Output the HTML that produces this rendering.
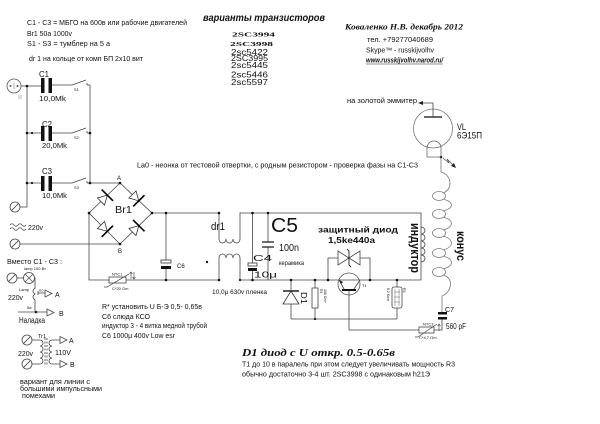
<!DOCTYPE html>
<html><head><meta charset="utf-8">
<style>
html,body{margin:0;padding:0;background:#fff;}
svg{display:block;}
text{font-family:"Liberation Sans","DejaVu Sans",sans-serif;fill:#111;}
.s{font-family:"Liberation Serif","DejaVu Serif",serif;}
.b{font-weight:bold;}
.i{font-style:italic;}
</style></head><body>
<svg width="600" height="424" viewBox="0 0 600 424" xmlns="http://www.w3.org/2000/svg">
<defs>
<g id="term"><circle r="5" fill="#fff" stroke="#444" stroke-width="0.8"/><line x1="-3.2" y1="3.2" x2="3.2" y2="-3.2" stroke="#444" stroke-width="0.8"/></g>
<g id="diode"><polygon points="-5,-5 -5,5 4,0" fill="#fff" stroke="#333" stroke-width="0.8"/><line x1="4" y1="-8" x2="4" y2="8" stroke="#000" stroke-width="1.6"/></g>
<g id="tri"><polygon points="0,-3.5 0,3.5 7,0" fill="#fff" stroke="#444" stroke-width="0.8"/></g>
</defs>

<!-- ===== WIRES ===== -->
<g fill="none" stroke="#444" stroke-width="0.8">
  <!-- C1..C3 rows -->
  <path d="M21,86 H41 M52,85 H72 L86,80 M87,85 H90"/>
  <path d="M27,133 H41 M52,133 H72 L86,128 M87,133 H90"/>
  <path d="M27,183 H41 M52,183 H72 L86,178 M87,183 H120"/>
  <path d="M87,85 v-2 M87,133 v-2 M87,183 v-2"/>
  <path d="M27,86 V207 H20"/>
  <path d="M90,85 V183"/>
  <path d="M20,244 H120"/>
  <!-- bridge -->
  <path d="M120,183 L152,213 L120,244 L89,213 Z"/>
  <path d="M152,213 H219 V239"/>
  <path d="M89,213 V280 H109 M126,280 H219 V258"/>
  <!-- dr1 -->
  <path d="M219,239 a3.5,4 0 0 0 7,0 a3.5,4 0 0 0 7,0 a3.5,4 0 0 0 7,0"/>
  <path d="M240,239 V213 H421 V280 H240 V258"/>
  <path d="M240,258 a3.5,4 0 0 0 -7,0 a3.5,4 0 0 0 -7,0 a3.5,4 0 0 0 -7,0"/>
  <!-- C6 -->
  <path d="M166,213 V260 M166,269 V280"/>
  <!-- C4 -->
  <path d="M252.5,213 V263 M252.5,271 V280"/>
  <!-- C5 -->
  <path d="M268,213 V242 M268,247 V280"/>
  <!-- D1 -->
  <path d="M291,280 V291 M291,304 V319"/>
  <!-- R4 -->
  <path d="M315,280 V288 M315,308 V319"/>
  <path d="M291,319 H397"/>
  <!-- TVS -->
  <path d="M328,280 V258 H338 M360,258 H370 V280"/>
  <!-- transistor -->
  <path d="M344,289 L339,280 M354,289 L360,280"/>
  <path d="M349,291 V330 H419"/>
  <!-- R3 -->
  <path d="M397,280 V287 M397,308 V319"/>
  <!-- inductor humps -->
  <path d="M421,227 a4,3.5 0 0 1 0,7 a4,3.5 0 0 1 0,7 a4,3.5 0 0 1 0,7 a4,3.5 0 0 1 0,7 a4,3.5 0 0 1 0,7"/>
  <!-- NTC3 to C7 -->
  <path d="M434,330 H442 V319.5"/>
</g>

<!-- bridge diodes -->
<use href="#diode" transform="translate(104.5,198) rotate(-45)"/>
<use href="#diode" transform="translate(136,198) rotate(45)"/>
<use href="#diode" transform="translate(104.5,228.5) rotate(45)"/>
<use href="#diode" transform="translate(136,228.5) rotate(-45)"/>

<!-- capacitor plates C1-C3 -->
<g fill="#111">
  <rect x="41" y="78" width="3.5" height="15"/><rect x="48.5" y="78" width="3.5" height="15"/>
  <rect x="41" y="126" width="3.5" height="15"/><rect x="48.5" y="126" width="3.5" height="15"/>
  <rect x="41" y="176" width="3.5" height="15"/><rect x="48.5" y="176" width="3.5" height="15"/>
  <!-- C6 -->
  <rect x="161" y="266" width="10" height="3"/>
  <!-- C4 -->
  <rect x="248" y="268" width="9" height="3"/>
  <!-- C7 -->
  <rect x="438" y="312" width="9" height="2.5"/><rect x="438" y="317" width="9" height="2.5"/>
</g>
<rect x="161" y="260" width="10" height="3" fill="#fff" stroke="#333" stroke-width="0.8"/>
<rect x="248" y="263" width="9" height="3" fill="#fff" stroke="#333" stroke-width="0.8"/>
<g stroke="#222" stroke-width="1.3"><line x1="262" y1="242" x2="274" y2="242"/><line x1="262" y1="247" x2="274" y2="247"/></g>

<!-- D1 -->
<line x1="283" y1="291" x2="299" y2="291" stroke="#111" stroke-width="1.4"/>
<polygon points="283,304 299,304 291,291" fill="#fff" stroke="#333" stroke-width="0.8"/>
<!-- R4 -->
<rect x="312" y="288" width="6" height="20" fill="#fff" stroke="#444" stroke-width="0.8"/>
<!-- TVS -->
<g fill="#fff" stroke="#444" stroke-width="0.8">
  <polygon points="338,251 338,265 349,258"/>
  <polygon points="360,251 360,265 349,258"/>
</g>
<path d="M347,249 L349,251 V265 L351,267" fill="none" stroke="#222" stroke-width="0.9"/>
<!-- transistor -->
<circle cx="349" cy="284" r="11" fill="none" stroke="#555" stroke-width="0.8"/>
<line x1="342" y1="290" x2="356" y2="290" stroke="#111" stroke-width="2"/>
<polygon points="339,280 343,282 341,284" fill="#222"/>
<!-- R3 -->
<rect x="392" y="287" width="10" height="21" rx="2" fill="#fff" stroke="#444" stroke-width="0.8"/>
<path d="M394,292 H400 M394,297 H400 M394,302 H400 M395,289 V306 M399,289 V306" stroke="#666" stroke-width="0.5" fill="none"/>

<!-- NTC1 -->
<rect x="109" y="277" width="17" height="6" fill="#fff" stroke="#444" stroke-width="0.8"/>
<path d="M104,287 H107 L129,274" fill="none" stroke="#444" stroke-width="0.7"/>
<path d="M131,279 V272 M129.5,274 L131,272 L132.5,274 M134,272 V279 M132.5,277 L134,279 L135.5,277" fill="none" stroke="#333" stroke-width="0.6"/>
<!-- NTC3 -->
<rect x="419" y="327" width="15" height="6" fill="#fff" stroke="#444" stroke-width="0.8"/>
<path d="M415,337 H418 L437,324" fill="none" stroke="#444" stroke-width="0.7"/>
<path d="M439,331 V324 M437.5,326 L439,324 L440.5,326" fill="none" stroke="#333" stroke-width="0.6"/>

<!-- socket C1 -->
<circle cx="14" cy="86" r="7" fill="#fff" stroke="#555" stroke-width="0.8"/>
<circle cx="10.5" cy="86" r="1" fill="#555"/><circle cx="17.5" cy="86" r="1" fill="#555"/>
<line x1="14" y1="83" x2="14" y2="89" stroke="#777" stroke-width="0.6"/>
<path d="M19,95 v4 M21,95 v4" stroke="#777" stroke-width="0.5"/>
<!-- terminals -->
<use href="#term" x="15" y="207"/>
<use href="#term" x="15" y="244"/>
<!-- ≈ -->
<path d="M10,225 q2,-2.5 4,0 t4,0 t4,0 t4,0 M10,229 q2,-2.5 4,0 t4,0 t4,0 t4,0" fill="none" stroke="#444" stroke-width="0.7"/>

<!-- dots -->
<g fill="#111">
  <circle cx="27" cy="86" r="1.3"/><circle cx="27" cy="133" r="1.3"/><circle cx="32" cy="133" r="1.1"/>
  <circle cx="90" cy="133" r="1.3"/><circle cx="27" cy="183" r="1.3"/><circle cx="32" cy="183" r="1.1"/>
  <circle cx="90" cy="183" r="1.3"/><circle cx="120" cy="183" r="1.3"/><circle cx="152" cy="213" r="1.3"/>
  <circle cx="89" cy="213" r="1.3"/><circle cx="120" cy="244" r="1.3"/><circle cx="166" cy="213" r="1.3"/>
  <circle cx="219" cy="213" r="1.3"/><circle cx="252.5" cy="213" r="1.3"/><circle cx="268" cy="213" r="1.3"/>
  <circle cx="166" cy="280" r="1.3"/><circle cx="219" cy="280" r="1.3"/><circle cx="252.5" cy="280" r="1.3"/>
  <circle cx="291" cy="280" r="1.3"/><circle cx="315" cy="280" r="1.3"/><circle cx="328" cy="280" r="1.3"/>
  <circle cx="370" cy="280" r="1.3"/><circle cx="397" cy="280" r="1.3"/><circle cx="207" cy="262" r="1.2"/>
  <circle cx="441" cy="157" r="1.3"/><circle cx="240" cy="280" r="1.1"/><circle cx="315" cy="319" r="1.1"/>
  <circle cx="36" cy="312" r="1.3"/>
</g>

<!-- ===== TUBE & CONE COIL ===== -->
<circle cx="433" cy="128.5" r="19.5" fill="none" stroke="#777" stroke-width="0.8"/>
<line x1="424" y1="117" x2="442" y2="117" stroke="#333" stroke-width="1.5"/>
<path d="M433,117 V103 H423" fill="none" stroke="#444" stroke-width="0.8"/>
<polygon points="418,103 423,101 423,105" fill="#222"/>
<path d="M427,148 A7,7 0 0 1 441,148 M427,148 V157 H441 V148" fill="none" stroke="#666" stroke-width="0.8"/>
<polyline points="443,158 449,163 447,159 454,166" fill="none" stroke="#444" stroke-width="0.7"/>
<polygon points="456,168 451,166 454,163" fill="#222"/>
<g fill="none" stroke="#777" stroke-width="0.8">
  <path d="M441,158 V172 C452,175 453,189 443.6,192.8"/>
  <path d="M443.6,199.2 C454,202 454,208 443.6,210.8"/>
  <path d="M443.6,217.2 C454,220 454,227 443.6,229.8"/>
  <path d="M443.6,236.2 C454,239 454,247 443.6,249.8"/>
  <path d="M443.6,256.2 C454,259 454,266 443.6,268.8"/>
  <path d="M443.6,275.2 C454,278 452,292 442,296 V312"/>
  <ellipse cx="439" cy="196" rx="6.5" ry="4.5"/>
  <ellipse cx="439" cy="214" rx="6.5" ry="4.5"/>
  <ellipse cx="439" cy="233" rx="6.5" ry="4.5"/>
  <ellipse cx="439" cy="253" rx="6.5" ry="4.5"/>
  <ellipse cx="439" cy="272" rx="6.5" ry="4.5"/>
</g>

<!-- ===== BOTTOM-LEFT MINI CIRCUITS ===== -->
<use href="#term" x="12" y="278"/>
<circle cx="29" cy="278" r="5.5" fill="#fff" stroke="#444" stroke-width="0.8"/>
<path d="M25,274 L33,282 M33,274 L25,282" stroke="#444" stroke-width="0.7"/>
<g fill="none" stroke="#444" stroke-width="0.8">
  <path d="M17,278 H23.5"/>
  <path d="M34.5,278 H35 V288 q-4,3 0,6 q-4,3 0,6 V312"/>
  <path d="M38,293 H45 M38,291 V295"/>
  <path d="M18,312 H47"/>
  <path d="M32,340 H40 M32,364 H40"/>
  <path d="M40,340 a3,3 0 0 1 0,6 a3,3 0 0 1 0,6 a3,3 0 0 1 0,6 a3,3 0 0 1 0,6"/>
  <path d="M52,340 a3,3 0 0 0 0,6 a3,3 0 0 0 0,6 a3,3 0 0 0 0,6 a3,3 0 0 0 0,6"/>
  <path d="M40,364 V364 M52,364 H60 M52,340 H60"/>
  <path d="M45,338 V366 M47,338 V366" stroke-dasharray="2,1.5"/>
</g>
<use href="#tri" x="45" y="293.5"/>
<use href="#tri" x="47" y="312.5"/>
<use href="#term" x="27" y="340"/>
<use href="#term" x="27" y="364"/>
<use href="#tri" x="60" y="340"/>
<use href="#tri" x="60" y="364"/>

<!-- ===== TEXT ===== -->
<g font-size="7.5">
  <text x="27" y="25" textLength="160" lengthAdjust="spacingAndGlyphs">C1 - C3 = МБГО на 600в или рабочие двигателей</text>
  <text x="27" y="36" textLength="45" lengthAdjust="spacingAndGlyphs">Br1 50a 1000v</text>
  <text x="27" y="46" textLength="83" lengthAdjust="spacingAndGlyphs">S1 - S3 = тумблер на 5 а</text>
  <text x="29" y="61" textLength="114" lengthAdjust="spacingAndGlyphs">dr 1 на кольце от комп БП 2x10 вит</text>
</g>
<text x="203" y="21" font-size="10" class="b i" textLength="122" lengthAdjust="spacingAndGlyphs">варианты транзисторов</text>
<text x="232" y="36.7" font-size="6.5" class="s b" textLength="43" lengthAdjust="spacingAndGlyphs">2SC3994</text>
<text x="230" y="46" font-size="6.5" class="s b" textLength="43" lengthAdjust="spacingAndGlyphs">2SC3998</text>
<g font-size="8">
  <text x="231" y="55" textLength="37" lengthAdjust="spacingAndGlyphs">2sc5422</text>
  <text x="231" y="61" textLength="37" lengthAdjust="spacingAndGlyphs">2SC3995</text>
  <text x="231" y="68" textLength="37" lengthAdjust="spacingAndGlyphs">2sc5445</text>
  <text x="231" y="77.5" textLength="37" lengthAdjust="spacingAndGlyphs">2sc5446</text>
  <text x="231" y="85" textLength="37" lengthAdjust="spacingAndGlyphs">2sc5597</text>
</g>
<text x="345" y="29.5" font-size="8.5" class="s b i" textLength="118" lengthAdjust="spacingAndGlyphs">Коваленко Н.В. декабрь 2012</text>
<text x="367" y="42" font-size="7" textLength="66" lengthAdjust="spacingAndGlyphs">тел. +79277040689</text>
<text x="366" y="52.5" font-size="7" textLength="68" lengthAdjust="spacingAndGlyphs">Skype™ - russkijvolhv</text>
<text x="366" y="62.5" font-size="7" class="b i" textLength="77" lengthAdjust="spacingAndGlyphs">www.russkijvolhv.narod.ru/</text>
<line x1="366" y1="64" x2="443" y2="64" stroke="#222" stroke-width="0.5"/>
<text x="347" y="103" font-size="7" textLength="70" lengthAdjust="spacingAndGlyphs">на золотой эммитер</text>
<text x="457" y="130" font-size="9" textLength="9" lengthAdjust="spacingAndGlyphs">VL</text>
<text x="457" y="138.5" font-size="9" textLength="25" lengthAdjust="spacingAndGlyphs">6Э15П</text>
<text x="137" y="167.5" font-size="7" textLength="281" lengthAdjust="spacingAndGlyphs">La0 - неонка от тестовой отвертки, с родным резистором - проверка фазы на С1-С3</text>

<g font-size="8.5">
  <text x="39" y="77" textLength="10" lengthAdjust="spacingAndGlyphs">C1</text>
  <text x="42" y="127" textLength="10" lengthAdjust="spacingAndGlyphs">C2</text>
  <text x="42" y="174" textLength="10" lengthAdjust="spacingAndGlyphs">C3</text>
</g>
<g font-size="7.5">
  <text x="39" y="101" textLength="27" lengthAdjust="spacingAndGlyphs">10,0Mk</text>
  <text x="42" y="148" textLength="25" lengthAdjust="spacingAndGlyphs">20,0Mk</text>
  <text x="42" y="198" textLength="25" lengthAdjust="spacingAndGlyphs">10,0Mk</text>
</g>
<g font-size="4">
  <text x="74" y="91">S1</text><text x="74" y="139">S2</text><text x="74" y="189">S3</text>
  <text x="112" y="275.5">NTC1</text><text x="112" y="290">C*20 Om</text>
  <text x="423" y="325.5">NTC3</text><text x="419" y="339">C*4,7 Om</text>
  <text x="362" y="287">T1</text>
  <text x="24" y="270">lamp 100 Вт</text>
  <text x="19" y="291">Lamp</text>
  <text x="39" y="291.5">no</text>
  <text x="27" y="309">5a</text>
</g>
<text x="117" y="180" font-size="6">A</text>
<text x="118" y="253" font-size="6">B</text>
<text x="115" y="213" font-size="10" textLength="17" lengthAdjust="spacingAndGlyphs">Br1</text>
<text x="28" y="230" font-size="7" textLength="15" lengthAdjust="spacingAndGlyphs">220v</text>
<text x="177" y="268" font-size="6">C6</text>
<text x="211" y="230" font-size="11" textLength="14" lengthAdjust="spacingAndGlyphs">dr1</text>
<text x="271" y="232" font-size="20" textLength="27" lengthAdjust="spacingAndGlyphs">C5</text>
<text x="279" y="251" font-size="10" textLength="20" lengthAdjust="spacingAndGlyphs">100n</text>
<text x="253" y="261" font-size="8.5" textLength="19" lengthAdjust="spacingAndGlyphs">C4</text>
<text x="279" y="265" font-size="6" textLength="25" lengthAdjust="spacingAndGlyphs">керамика</text>
<text x="254" y="277.5" font-size="8.5" textLength="23" lengthAdjust="spacingAndGlyphs">10μ</text>
<text x="212" y="294" font-size="6.5" textLength="55" lengthAdjust="spacingAndGlyphs">10,0μ 630v пленка</text>
<text x="318" y="232.5" font-size="8" class="b" textLength="80" lengthAdjust="spacingAndGlyphs">защитный диод</text>
<text x="328" y="243" font-size="8" class="b" textLength="47" lengthAdjust="spacingAndGlyphs">1,5ke440a</text>
<text transform="translate(411,223) rotate(90)" font-size="13" class="b" textLength="50" lengthAdjust="spacingAndGlyphs">индуктор</text>
<text transform="translate(457,231) rotate(90)" font-size="12" class="b" textLength="30" lengthAdjust="spacingAndGlyphs">конус</text>
<text transform="translate(301,292) rotate(90)" font-size="8.5" textLength="12" lengthAdjust="spacingAndGlyphs">D1</text>
<text transform="translate(320,289) rotate(90)" font-size="3.5">R4</text>
<text transform="translate(324,289) rotate(90)" font-size="3.5">100 Om*</text>
<text transform="translate(403,288) rotate(90)" font-size="3.5">R3</text>
<text transform="translate(387,288) rotate(90)" font-size="3.5">8,2 Kom</text>
<text x="445" y="312" font-size="7" textLength="9" lengthAdjust="spacingAndGlyphs">C7</text>
<text x="446" y="329" font-size="8" textLength="20" lengthAdjust="spacingAndGlyphs">560 pF</text>

<g font-size="7">
  <text x="102" y="309" textLength="100" lengthAdjust="spacingAndGlyphs">R* установить U Б-Э 0,5- 0,65в</text>
  <text x="102" y="319" textLength="48" lengthAdjust="spacingAndGlyphs">С6 слюда КСО</text>
  <text x="102" y="328" textLength="105" lengthAdjust="spacingAndGlyphs">индуктор 3 - 4 витка медной трубой</text>
  <text x="102" y="338" textLength="73" lengthAdjust="spacingAndGlyphs">С6 1000μ 400v Low esr</text>
</g>
<text x="242" y="356" font-size="10" class="s b i" textLength="153" lengthAdjust="spacingAndGlyphs">D1 диод с U откр. 0.5-0.65в</text>
<text x="242" y="366.7" font-size="7" textLength="213" lengthAdjust="spacingAndGlyphs">Т1  до 10 в паралель при этом следует увеличивать мощность R3</text>
<text x="242" y="376.7" font-size="7" textLength="188" lengthAdjust="spacingAndGlyphs">обычно достаточно 3-4 шт. 2SC3998 с одинаковым h21Э</text>

<text x="7" y="264" font-size="7" textLength="55" lengthAdjust="spacingAndGlyphs">Вместо С1 - С3 :</text>
<text x="8" y="300" font-size="7.5" textLength="15" lengthAdjust="spacingAndGlyphs">220v</text>
<text x="55" y="297" font-size="7">A</text>
<text x="59" y="316" font-size="7">B</text>
<text x="19" y="323" font-size="8" textLength="26" lengthAdjust="spacingAndGlyphs">Наладка</text>
<text x="38" y="338" font-size="5.5" textLength="8" lengthAdjust="spacingAndGlyphs">Tr1</text>
<text x="18" y="356" font-size="7.5" textLength="15" lengthAdjust="spacingAndGlyphs">220v</text>
<text x="55" y="355" font-size="7.5" textLength="16" lengthAdjust="spacingAndGlyphs">110V</text>
<text x="69" y="343" font-size="7">A</text>
<text x="70" y="367" font-size="7">B</text>
<g font-size="7">
  <text x="20" y="384" textLength="70" lengthAdjust="spacingAndGlyphs">вариант для линии с</text>
  <text x="20" y="391" textLength="82" lengthAdjust="spacingAndGlyphs">большими импульсными</text>
  <text x="22" y="398" textLength="33" lengthAdjust="spacingAndGlyphs">помехами</text>
</g>
</svg>
</body></html>
